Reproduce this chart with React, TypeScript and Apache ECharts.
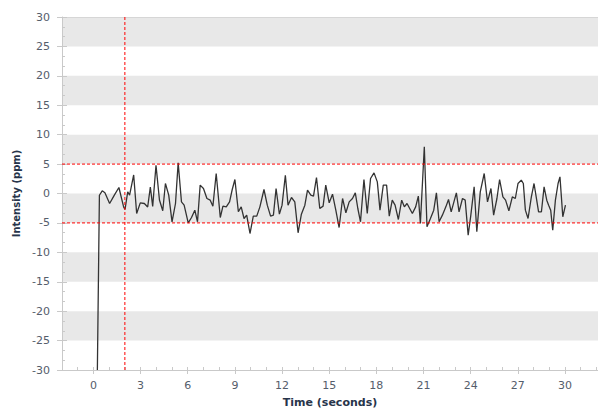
import React, { useEffect, useRef } from "react";
import * as echarts from "echarts";

const timeValues = [
  0.25, 0.38, 0.56, 0.73, 1.03, 1.33, 1.62, 1.92, 2.01, 2.18, 2.3, 2.56, 2.75, 2.98, 3.24, 3.45, 3.62, 3.77, 3.98, 4.2,
  4.41, 4.58, 4.79, 5.0, 5.22, 5.39, 5.6, 5.77, 6.03, 6.24, 6.45, 6.62, 6.79, 7.0, 7.22, 7.43, 7.6, 7.81, 8.07, 8.24,
  8.45, 8.66, 8.83, 9.0, 9.22, 9.4, 9.58, 9.75, 9.96, 10.17, 10.39, 10.59, 10.85, 11.06, 11.27, 11.45, 11.62, 11.83, 12.0, 12.21,
  12.38, 12.6, 12.81, 13.02, 13.23, 13.45, 13.62, 13.83, 14.0, 14.19, 14.4, 14.61, 14.78, 15.0, 15.21, 15.42, 15.63, 15.85, 16.06, 16.27,
  16.48, 16.66, 16.82, 16.99, 17.21, 17.42, 17.63, 17.85, 18.06, 18.23, 18.44, 18.65, 18.82, 19.01, 19.19, 19.4, 19.61, 19.78, 19.95, 20.29,
  20.5, 20.67, 20.8, 21.05, 21.22, 21.44, 21.65, 21.82, 21.99, 22.2, 22.42, 22.59, 22.76, 23.09, 23.26, 23.48, 23.65, 23.84, 24.01, 24.22,
  24.39, 24.61, 24.86, 25.07, 25.29, 25.46, 25.67, 25.84, 26.05, 26.22, 26.43, 26.65, 26.84, 27.01, 27.22, 27.35, 27.48, 27.65, 27.86, 28.03,
  28.2, 28.32, 28.5, 28.67, 28.84, 28.96, 29.09, 29.22, 29.39, 29.56, 29.68, 29.86, 30.03,
];

const intensityValues = [
  -30, -0.3, 0.45, 0.11, -1.7, -0.28, 1.02, -2.27, -2.72, 0.28, -0.28, 3.15, -3.4, -1.6, -1.7, -2.3, 1.1, -2.2, 4.8, -1.1,
  -2.94, 1.7, -0.28, -4.81, -1.7, 5.21, -1.42, -1.98, -4.98, -4.08, -2.83, -4.81, 1.42, 0.85, -0.85, -1.13, -2.15, 3.4, -4.08, -2.15,
  -2.27, -1.42, 0.68, 2.38, -3.11, -2.27, -4.25, -3.68, -6.8, -3.85, -3.85, -2.27, 0.68, -1.98, -3.85, -3.68, 0.85, -3.51, -1.98, 3.11,
  -1.98, -0.68, -1.42, -6.68, -3.51, -1.98, 0.57, -0.28, -0.45, 2.72, -2.55, -2.15, 1.42, -1.59, -0.11, -2.83, -5.78, -0.85, -3.28, -1.42,
  -0.85, 0.11, -2.55, -4.81, 2.38, -3.4, 2.55, 3.51, 1.98, -2.83, 1.42, 1.42, -3.85, -1.13, -1.98, -4.42, -1.13, -2.27, -1.7, -3.4,
  -2.27, -0.45, -5.1, 7.93, -5.66, -4.25, -2.83, 0.11, -4.81, -3.68, -2.27, -1.02, -3.11, 0.11, -3.11, -0.85, -1.13, -7.08, -3.68, 1.13,
  -6.51, 0.28, 3.4, -1.42, 0.85, -3.68, -0.85, 2.38, -0.57, -1.13, -2.94, -0.57, -0.85, 1.7, 2.27, 1.7, -2.83, -4.25, -0.57, 1.7,
  -1.13, -3.11, -3.11, 1.13, -1.13, -1.98, -2.83, -6.23, -1.13, 1.7, 2.83, -3.96, -1.98,
];

const xLabelValues = [0, 3, 6, 9, 12, 15, 18, 21, 24, 27, 30];
const yLimits = [-30, 30];
const xLimits = [-2, 32.1];
const thresholdValues = [5, -5];
const markerTime = 2;

const FONT = "DejaVu Sans";
const AXIS_GRAY = "#c9c9c9";
const LABEL_COLOR = "#555d6b";
const NAME_COLOR = "#27344a";

function refLine(points: number[][]) {
  return {
    type: "line",
    xAxisIndex: 0,
    yAxisIndex: 0,
    data: points,
    showSymbol: false,
    symbol: "none",
    silent: true,
    z: 4,
    itemStyle: { color: "#ff0000" },
    lineStyle: { color: "#ff0000", type: [3, 2], width: 1 },
  };
}

export default function App() {
  const ref = useRef<HTMLDivElement>(null);

  useEffect(() => {
    if (!ref.current) return;
    const chart = echarts.init(ref.current, undefined, { renderer: "svg" });
    const data = timeValues.map((t, i) => [t, intensityValues[i]]);

    chart.setOption({
      animation: false,
      backgroundColor: "#ffffff",
      grid: { left: 62, right: 0, top: 17, bottom: 39, outerBoundsMode: "none", containLabel: false },
      xAxis: [
        {
          type: "value",
          position: "bottom",
          min: xLimits[0],
          max: xLimits[1],
          interval: 1,
          name: "Time (seconds)",
          nameLocation: "middle",
          nameGap: 27,
          nameTextStyle: { fontFamily: FONT, fontSize: 11, fontWeight: "bold", color: NAME_COLOR },
          axisLine: { show: true, onZero: false, lineStyle: { color: AXIS_GRAY, width: 1 } },
          axisTick: { show: true, customValues: xLabelValues, length: 4, inside: false, lineStyle: { color: AXIS_GRAY } },
          axisLabel: { customValues: xLabelValues, fontFamily: FONT, fontSize: 11, color: LABEL_COLOR, margin: 10 },
          splitLine: { show: false },
        },
        {
          type: "value",
          position: "bottom",
          min: xLimits[0],
          max: xLimits[1],
          interval: 1,
          axisLine: { show: false, onZero: false },
          axisTick: { show: true, inside: true, length: 3, lineStyle: { color: AXIS_GRAY } },
          axisLabel: { show: false },
          splitLine: { show: false },
        },
        {
          type: "value",
          position: "top",
          min: xLimits[0],
          max: xLimits[1],
          axisLine: { show: true, onZero: false, lineStyle: { color: "#d6d6d6", width: 1 } },
          axisTick: { show: false },
          axisLabel: { show: false },
          splitLine: { show: false },
        },
      ],
      yAxis: [
        {
          type: "value",
          position: "left",
          min: yLimits[0],
          max: yLimits[1],
          interval: 5,
          name: "Intensity (ppm)",
          nameLocation: "middle",
          nameGap: 41,
          nameRotate: 90,
          nameTextStyle: { fontFamily: FONT, fontSize: 10, fontWeight: "bold", color: NAME_COLOR },
          axisLine: { show: true, onZero: false, lineStyle: { color: AXIS_GRAY, width: 1 } },
          axisTick: { show: true, inside: false, length: 5, lineStyle: { color: AXIS_GRAY } },
          axisLabel: { fontFamily: FONT, fontSize: 11, color: LABEL_COLOR, margin: 12 },
          splitLine: { show: false },
          splitArea: { show: true, areaStyle: { color: ["rgba(255,255,255,0)", "#e8e8e8"] } },
        },
        {
          type: "value",
          position: "left",
          min: yLimits[0],
          max: yLimits[1],
          interval: 5,
          axisLine: { show: false, onZero: false },
          axisTick: { show: true, inside: true, length: 5, lineStyle: { color: AXIS_GRAY } },
          minorTick: { show: true, splitNumber: 3, length: 3, lineStyle: { color: AXIS_GRAY } },
          axisLabel: { show: false },
          splitLine: { show: false },
        },
      ],
      series: [
        {
          type: "line",
          xAxisIndex: 0,
          yAxisIndex: 0,
          data,
          showSymbol: false,
          symbol: "none",
          lineStyle: { color: "#333333", width: 1.3 },
          z: 3,
        },
        refLine([[xLimits[0], thresholdValues[0]], [xLimits[1], thresholdValues[0]]]),
        refLine([[xLimits[0], thresholdValues[1]], [xLimits[1], thresholdValues[1]]]),
        refLine([[markerTime, yLimits[0]], [markerTime, yLimits[1]]]),
      ],
    });

    return () => chart.dispose();
  }, []);

  return (
    <div
      ref={ref}
      style={{ position: "fixed", left: 0, top: 0, width: 598, height: 409, background: "#fff" }}
    />
  );
}
